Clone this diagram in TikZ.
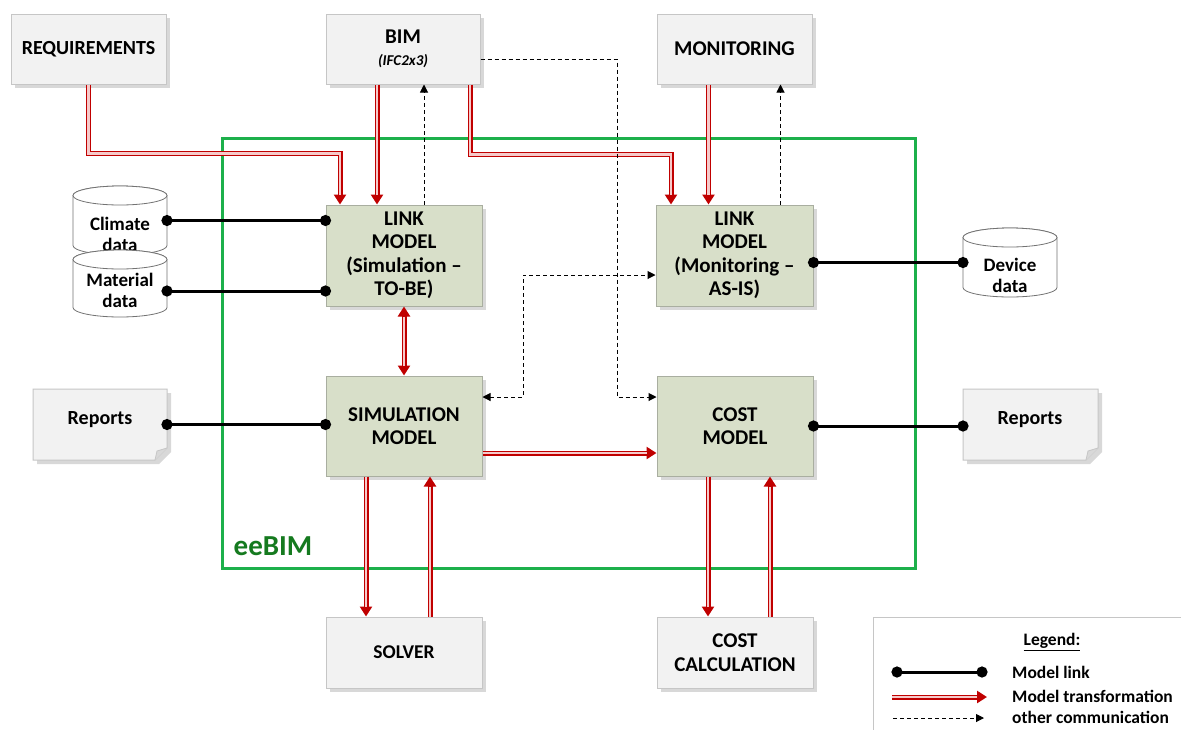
\documentclass[tikz,border=0pt]{standalone}
\usepackage{fontspec}
\setmainfont{Carlito}
\usetikzlibrary{arrows.meta,shadows,calc}

\definecolor{boxgray}{HTML}{F2F2F2}
\definecolor{boxedge}{HTML}{C6C6C6}
\definecolor{shadowgray}{HTML}{D8D8D8}
\definecolor{modelfill}{HTML}{D8DFC9}
\definecolor{modeledge}{HTML}{A9AEA0}
\definecolor{xred}{HTML}{C00000}
\definecolor{xpink}{HTML}{F6CACA}
\definecolor{framegreen}{HTML}{1DB04B}
\definecolor{labelgreen}{HTML}{157A1F}

\begin{document}
\begin{tikzpicture}[x=1pt,y=-1pt,
  extbox/.style={draw=boxedge, fill=boxgray, line width=1pt,
    general shadow={fill=shadowgray, shadow xshift=4pt, shadow yshift=-4pt},
    font=\fontsize{21}{23.5}\selectfont\bfseries, align=center, inner sep=0pt},
  modelbox/.style={extbox, fill=modelfill, draw=modeledge},
  area/.style={inner sep=0pt, outer sep=0pt},
  cyltext/.style={font=\fontsize{19}{21}\selectfont\bfseries, align=center, inner sep=0pt},
  doctext/.style={font=\fontsize{20}{22}\selectfont\bfseries, inner sep=0pt},
  cylbody/.style={draw=black!55, fill=white, line width=0.8pt},
  modellink/.style={line width=3pt, black, shorten <=-5.5pt, shorten >=-5.5pt,
    {Circle[length=11pt]}-{Circle[length=11pt]}},
  transform/.style={xred, line width=5pt, -{Triangle[length=10pt,width=12pt]},
    postaction={draw=xpink, line width=2.4pt, arrows=-, shorten >=10pt}},
  transformboth/.style={xred, line width=5pt, {Triangle[length=10pt,width=12pt]}-{Triangle[length=10pt,width=12pt]},
    postaction={draw=xpink, line width=2.4pt, arrows=-, shorten >=10pt, shorten <=10pt}},
  comm/.style={black, line width=1pt, dash pattern=on 4pt off 3pt, -{Triangle[length=8pt,width=8pt]}},
  commboth/.style={comm, {Triangle[length=8pt,width=8pt]}-{Triangle[length=8pt,width=8pt]}},
  legendtext/.style={font=\fontsize{17.5}{20}\selectfont\bfseries, anchor=west, inner sep=0pt}
]
\useasboundingbox (0,0) rectangle (1181,729);
\clip (0,0) rectangle (1181,729);
\fill[white] (0,0) rectangle (1181,729);

% eeBIM frame
\draw[framegreen, line width=3pt] (222,138) rectangle (915,568);
\node[font=\fontsize{29}{32}\selectfont\bfseries, text=labelgreen, inner sep=0pt] (eebim) at (273,546) {eeBIM};

% external boxes
\node[extbox, font=\fontsize{20}{23.5}\selectfont\bfseries, minimum width=155pt, minimum height=70pt] (req) at (88.5,49) {REQUIREMENTS};
\node[extbox, minimum width=154pt, minimum height=70pt] (bim) at (403,49)
  {BIM\\[-2pt]{\fontsize{15}{18}\selectfont\bfseries\itshape (IFC2x3)}};
\node[extbox, minimum width=155pt, minimum height=70pt] (mon) at (734.5,49) {MONITORING};
\node[extbox, font=\fontsize{19.5}{23.5}\selectfont\bfseries, minimum width=156pt, minimum height=71pt] (solver) at (404,652.5) {SOLVER};
\node[extbox, minimum width=156pt, minimum height=71pt] (calc) at (735,652.5) {COST\\CALCULATION};

% model boxes
\node[modelbox, minimum width=156pt, minimum height=101pt] (lsim) at (404,255.5)
  {LINK\\MODEL\\(Simulation –\\TO-BE)};
\node[modelbox, minimum width=157pt, minimum height=101pt] (lmon) at (734.5,255.5)
  {LINK\\MODEL\\(Monitoring –\\AS-IS)};
\node[modelbox, minimum width=156pt, minimum height=100pt] (sim) at (404,426) {SIMULATION\\MODEL};
\node[modelbox, minimum width=156pt, minimum height=100pt] (cost) at (735,426) {COST\\MODEL};

% data stores (cylinders)
\node[area, minimum width=94pt, minimum height=69pt] (clim) at (120,220.5) {};
\draw[cylbody] (73,195.5) -- (73,245.5) arc[start angle=180, end angle=0, x radius=47, y radius=9.5]
  -- (167,195.5) arc[start angle=0, end angle=-180, x radius=47, y radius=9.5] -- cycle;
\draw[cylbody] (120,195.5) ellipse[x radius=47, y radius=9.5];
\node[cyltext] (climtxt) at (120,234) {Climate\\data};

\node[area, minimum width=94pt, minimum height=67pt] (mat) at (120,283.5) {};
\draw[cylbody] (73,259.5) -- (73,307.5) arc[start angle=180, end angle=0, x radius=47, y radius=9.5]
  -- (167,259.5) arc[start angle=0, end angle=-180, x radius=47, y radius=9.5] -- cycle;
\draw[cylbody] (120,259.5) ellipse[x radius=47, y radius=9.5];
\node[cyltext] (mattxt) at (120,290) {Material\\data};

\node[area, minimum width=94pt, minimum height=69pt] (dev) at (1010,262.5) {};
\draw[cylbody] (963,237.5) -- (963,287.5) arc[start angle=180, end angle=0, x radius=47, y radius=9.5]
  -- (1057,237.5) arc[start angle=0, end angle=-180, x radius=47, y radius=9.5] -- cycle;
\draw[cylbody] (1010,237.5) ellipse[x radius=47, y radius=9.5];
\node[cyltext] (devtxt) at (1010,275) {Device\\data};

% report documents with folded corner
\node[area, minimum width=134pt, minimum height=71pt] (repL) at (100,424.5) {};
\node[area, minimum width=135pt, minimum height=71pt] (repR) at (1030.5,424.5) {};
\fill[shadowgray] ($(repL.north west)+(4,4)$) -- ($(repL.north east)+(4,4)$) -- ($(repL.south east)+(4,-8)$)
  -- ($(repL.south east)+(-8,4)$) -- ($(repL.south west)+(4,4)$) -- cycle;
\draw[draw=boxedge, fill=boxgray, line width=1pt] (repL.north west) -- (repL.north east) -- ($(repL.south east)+(0,-12)$)
  -- ($(repL.south east)+(-12,0)$) -- (repL.south west) -- cycle;
\draw[draw=boxedge, fill=shadowgray, line width=0.8pt] ($(repL.south east)+(0,-12)$) -- ($(repL.south east)+(-10,-9)$)
  -- ($(repL.south east)+(-12,0)$);
\fill[shadowgray] ($(repR.north west)+(4,4)$) -- ($(repR.north east)+(4,4)$) -- ($(repR.south east)+(4,-8)$)
  -- ($(repR.south east)+(-8,4)$) -- ($(repR.south west)+(4,4)$) -- cycle;
\draw[draw=boxedge, fill=boxgray, line width=1pt] (repR.north west) -- (repR.north east) -- ($(repR.south east)+(0,-12)$)
  -- ($(repR.south east)+(-12,0)$) -- (repR.south west) -- cycle;
\draw[draw=boxedge, fill=shadowgray, line width=0.8pt] ($(repR.south east)+(0,-12)$) -- ($(repR.south east)+(-10,-9)$)
  -- ($(repR.south east)+(-12,0)$);
\node[doctext] (repLtxt) at (100,420) {Reports};
\node[doctext] (repRtxt) at (1030,420) {Reports};

% model links
\draw[modellink] (clim.east) -- (clim.east -| lsim.west);
\draw[modellink] ([yshift=-7.5pt]mat.east) -- ([yshift=-7.5pt]mat.east -| lsim.west);
\draw[modellink] (dev.west -| lmon.east) -- (dev.west);
\draw[modellink] (repL.east) -- (repL.east -| sim.west);
\draw[modellink] (cost.east) -- (cost.east -| repR.west);

% model transformations
\draw[transform] (req.south) -- ++(0,69) -| ([xshift=-64pt]lsim.north);
\draw[transform] ([xshift=-26pt]bim.south) -- ([xshift=-26pt]bim.south |- lsim.north);
\draw[transform] ([xshift=67pt]bim.south) -- ++(0,70) -| ([xshift=-63.5pt]lmon.north);
\draw[transform] ([xshift=-26pt]mon.south) -- ([xshift=-26pt]mon.south |- lmon.north);
\draw[transformboth] (lsim.south) -- (sim.north);
\draw[transform] ([yshift=-27pt]sim.east) -- ([yshift=-27pt]sim.east -| cost.west);
\draw[transform] ([xshift=-38pt]sim.south) -- ([xshift=-38pt]sim.south |- solver.north);
\draw[transform] ([xshift=26pt]solver.north) -- ([xshift=26pt]solver.north |- sim.south);
\draw[transform] ([xshift=-27pt]cost.south) -- ([xshift=-27pt]cost.south |- calc.north);
\draw[transform] ([xshift=35pt]calc.north) -- ([xshift=35pt]calc.north |- cost.south);

% other communication
\draw[comm] ([xshift=20pt]lsim.north) -- ([xshift=20pt]lsim.north |- bim.south);
\draw[comm] ([xshift=46pt]lmon.north) -- ([xshift=46pt]lmon.north |- mon.south);
\coordinate (bimturn) at (617,397);
\draw[comm] ([yshift=-10pt]bim.east) -| (bimturn) -- (bimturn -| cost.west);
\coordinate (midturn) at (523,275);
\draw[commboth] ([yshift=29pt]sim.east) -| (midturn) -- (midturn -| lmon.west);

% legend
\draw[boxedge, line width=1pt, fill=white] (873,617) rectangle (1200,760);
\node[font=\fontsize{17.5}{20}\selectfont\bfseries, inner sep=0pt] (legtitle) at (1052,642) {\underline{Legend:}};
\coordinate (lga) at (897,672); \coordinate (lgb) at (982,672);
\draw[modellink] (lga) -- (lgb);
\node[legendtext] (lgtxta) at (1012,672) {Model link};
\coordinate (lgc) at (892,697); \coordinate (lgd) at (987,697);
\draw[transform] (lgc) -- (lgd);
\node[legendtext] (lgtxtb) at (1012,696) {Model transformation};
\coordinate (lge) at (893,718); \coordinate (lgf) at (984,718);
\draw[comm] (lge) -- (lgf);
\node[legendtext] (lgtxtc) at (1012,717) {other communication};
\end{tikzpicture}
\end{document}
